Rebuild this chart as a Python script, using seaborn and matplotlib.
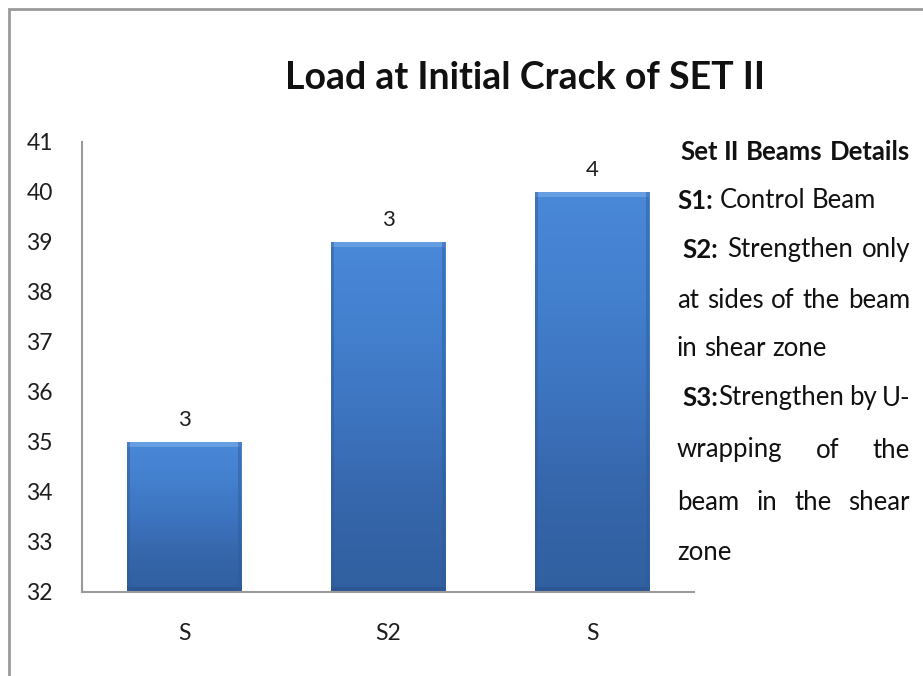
import numpy as np
import pandas as pd
import matplotlib
matplotlib.use("Agg")
import matplotlib.pyplot as plt
import seaborn as sns
from matplotlib.colors import LinearSegmentedColormap
from matplotlib.patches import Rectangle

# ---- data ----
tick_labels = ["S", "S2", "S"]
loads = [35, 39, 40]
bar_labels = ["3", "3", "4"]
title = "Load at Initial Crack of SET II"
y_min, y_max = 32, 41
notes = [
    ([("Set II Beams Details", True)], False, 3),
    ([("S1:", True), (" Control Beam", False)], False, 0),
    ([("S2:", True), (" Strengthen only", False)], True, 5),
    ([("at sides of the beam", False)], True, 0),
    ([("in shear zone", False)], False, 0),
    ([("S3:", True), ("Strengthen by U-", False)], True, 5),
    ([("wrapping of the", False)], True, 0),
    ([("beam in the shear", False)], True, 0),
    ([("zone", False)], False, 0),
]

sns.set_theme(style="white")
plt.rcParams["font.family"] = ["Lato", "DejaVu Sans"]

W, H = 923, 676
fig = plt.figure(figsize=(W / 100, H / 100), dpi=100)
ax = fig.add_axes([82 / W, (H - 592) / H, (694 - 82) / W, (592 - 142) / H])

df = pd.DataFrame({"slot": [str(i) for i in range(len(loads))], "load": loads})
sns.barplot(data=df, x="slot", y="load", ax=ax, color="#3F78C4", width=0.56,
            saturation=1, edgecolor="none", linewidth=0)

ax.set_ylim(y_min, y_max)
ax.set_xlim(-0.5, len(loads) - 0.5)
ax.set_yticks(range(y_min, y_max + 1))
ax.set_xticks(range(len(loads)))
ax.set_xticklabels(tick_labels)
ax.set_xlabel("")
ax.set_ylabel("")
ax.tick_params(axis="y", length=0, pad=21, labelsize=16.5, labelcolor="#1e1e1e")
ax.tick_params(axis="x", length=0, pad=22, labelsize=16.5, labelcolor="#1e1e1e")
for s in ["top", "right"]:
    ax.spines[s].set_visible(False)
for s in ["left", "bottom"]:
    ax.spines[s].set_color("#9a9a9a")
    ax.spines[s].set_linewidth(1.5)
    ax.spines[s].set_zorder(5)

# gradient fill for bars
cmap = LinearSegmentedColormap.from_list(
    "bar", ["#30609F", "#3666AB", "#3D74BF", "#4380CE", "#4A88D8"])
grad = np.linspace(0, 1, 256).reshape(-1, 1)
for p in ax.patches:
    x0, y0 = p.get_x(), p.get_y()
    w, h = p.get_width(), p.get_height()
    top = y0 + h
    bot = max(y0, y_min)
    p.set_visible(False)
    ax.imshow(grad, cmap=cmap, origin="lower", aspect="auto",
              extent=(x0, x0 + w, bot, top), zorder=2, interpolation="bicubic")
    # bevels
    ax.add_patch(Rectangle((x0, top - 0.1), w, 0.1, color="#6CA3E6", alpha=0.85,
                           lw=0, zorder=3))
    ax.add_patch(Rectangle((x0, bot), w, 0.1, color="#2A5290", alpha=0.7,
                           lw=0, zorder=3))
    ax.add_patch(Rectangle((x0, bot), w * 0.025, top - bot, color="#2F5A96",
                           alpha=0.45, lw=0, zorder=3))
    ax.add_patch(Rectangle((x0 + w * 0.975, bot), w * 0.025, top - bot,
                           color="#2F5A96", alpha=0.45, lw=0, zorder=3))
ax.set_xlim(-0.5, len(loads) - 0.5)
ax.set_ylim(y_min, y_max)

ax.bar_label(ax.containers[0], labels=bar_labels, padding=9, fontsize=16,
             color="#1e1e1e")

fig.text(525 / W, 1 - 78 / H, title, ha="center", va="center",
         fontsize=27, fontweight="bold", color="#111111")

# figure border
fig.add_artist(Rectangle((9 / W, -0.05), 1.2, 1 - 9 / H + 0.05,
                         transform=fig.transFigure, fill=False,
                         edgecolor="#9a9a9a", lw=2))

# side notes with simple justification
fig.canvas.draw()
renderer = fig.canvas.get_renderer()
left_px, right_px = 677, 910
y_positions = [152, 201, 250, 300, 349, 398, 450, 502, 552]
fs = 18.5


def measure(txt, bold):
    t = fig.text(0, 0, txt, fontsize=fs, fontweight="bold" if bold else "normal")
    wd = t.get_window_extent(renderer).width
    t.remove()
    return wd


for (segs, justify, indent), ypx in zip(notes, y_positions):
    chars = [(c, b) for txt, b in segs for c in txt]
    words, cur = [], []
    for c, b in chars:
        if c == " ":
            if cur:
                words.append(cur)
                cur = []
        else:
            if cur and cur[-1][1] == b:
                cur[-1] = (cur[-1][0] + c, b)
            else:
                cur.append((c, b))
    if cur:
        words.append(cur)
    word_w = [sum(measure(t, b) for t, b in wd) for wd in words]
    x = left_px + indent
    total = sum(word_w)
    if justify and len(words) > 1:
        gap = (right_px - x - total) / (len(words) - 1)
    else:
        gap = measure("a b", False) - measure("ab", False)
    for wd, ww in zip(words, word_w):
        xx = x
        for t, b in wd:
            fig.text(xx / W, 1 - ypx / H, t, fontsize=fs, va="center", ha="left",
                     fontweight="bold" if b else "normal", color="#111111")
            xx += measure(t, b)
        x += ww + gap

fig.savefig("out.png", dpi=100)
